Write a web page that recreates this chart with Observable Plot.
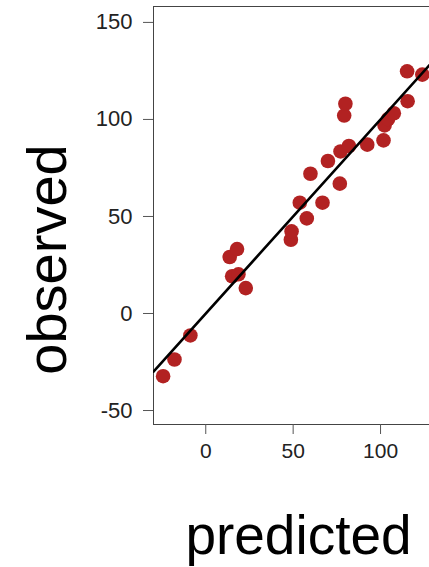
<!DOCTYPE html>
<html>
<head>
<meta charset="utf-8">
<script src="https://cdn.jsdelivr.net/npm/d3@7"></script>
<script src="https://cdn.jsdelivr.net/npm/@observablehq/plot@0.6"></script>
<style>
  html, body { margin: 0; padding: 0; background: #fff; overflow: hidden; width: 429px; height: 567px; }
  #chart { width: 429px; height: 567px; overflow: hidden; }
  #chart svg { display: block; max-width: none !important; width: 451px; height: 567px; }
</style>
</head>
<body>
<div id="chart"></div>
<script>
const predicted = [-24.4, -17.9, -8.8, 13.7, 17.9, 15.1, 18.7, 22.9, 48.7, 49.1, 57.8, 53.8, 66.8, 59.9, 76.7, 69.9, 77.1, 81.9, 92.4, 101.7, 102.3, 104.3, 107.6, 115.5, 79.2, 79.9, 115.2, 123.9];
const observed  = [-32.3, -23.7, -11.3, 29.1, 33.2, 19.2, 20.2, 13.1, 38.0, 42.3, 49.0, 57.1, 57.1, 72.0, 66.9, 78.6, 83.5, 86.3, 87.0, 89.2, 96.9, 100.2, 103.2, 109.4, 102.0, 108.1, 124.8, 123.1];
const xTicks = [0, 50, 100];
const yTicks = [-50, 0, 50, 100, 150];
const xTitle = "predicted";
const yTitle = "observed";
const fitIntercept = 0;
const fitSlope = 1;

const points = predicted.map((p, i) => ({predicted: p, observed: observed[i]}));
const xDomain = [-29.9, 140.6];
const yDomain = [-57.2, 158.2];
const fitLine = xDomain.map(x => ({x, y: fitIntercept + fitSlope * x}));

const font = "'Liberation Sans', Arial, Helvetica, sans-serif";
const fmt = d => String(d);

const chart = Plot.plot({
  width: 451,
  height: 567,
  marginLeft: 153,
  marginRight: 0,
  marginTop: 6,
  marginBottom: 143,
  style: {fontFamily: font, background: "#fff", color: "#222", maxWidth: "none"},
  x: {domain: xDomain, label: null},
  y: {domain: yDomain, label: null},
  marks: [
    Plot.frame({stroke: "#444", strokeWidth: 1}),
    Plot.axisY({ticks: yTicks, tickFormat: fmt, tickSize: 10, tickPadding: 11, fontSize: 22, label: null, stroke: "#555"}),
    Plot.axisX({ticks: xTicks, tickFormat: fmt, tickSize: 10, tickPadding: 9, fontSize: 21, label: null, stroke: "#555"}),
    Plot.dot(points, {x: "predicted", y: "observed", r: 7.3, fill: "#b22222", stroke: "none"}),
    Plot.line(fitLine, {x: "x", y: "y", stroke: "#000", strokeWidth: 2.6, clip: true}),
    Plot.text([yTitle], {frameAnchor: "left", text: d => d, rotate: -90, textAnchor: "middle", lineAnchor: "bottom", dx: -88, dy: 44, fontSize: 56, fill: "#000"}),
    Plot.text([xTitle], {frameAnchor: "bottom", text: d => d, textAnchor: "middle", lineAnchor: "bottom", dx: -4, dy: 129, fontSize: 55, fill: "#000"})
  ]
});
document.getElementById("chart").appendChild(chart);
</script>
</body>
</html>
